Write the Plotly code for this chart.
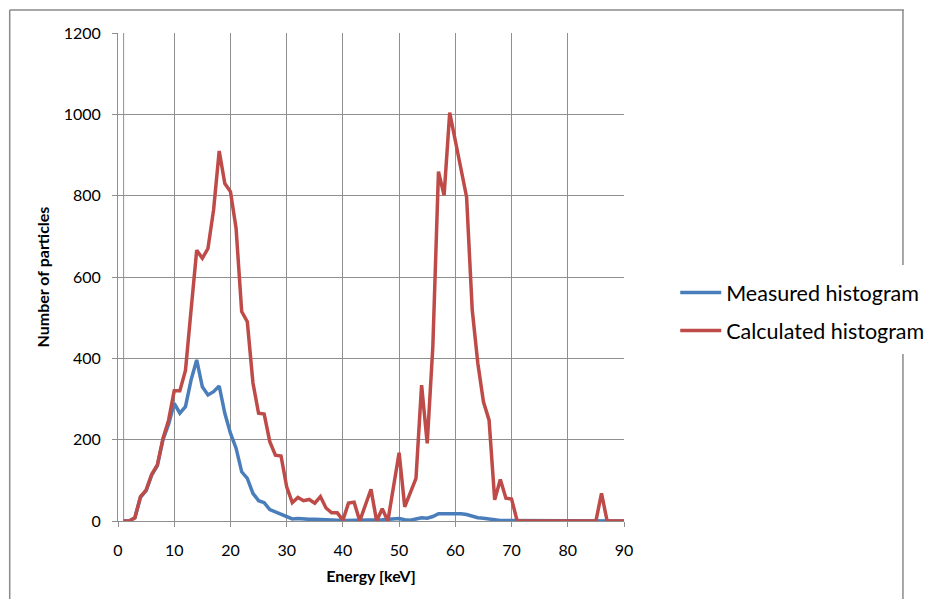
import plotly.graph_objects as go

energy = list(range(1, 91))

measured = [0, 0, 8, 58, 75, 113, 136, 200, 238, 289,
            265, 281, 347, 396, 330, 310, 318, 332, 265, 216,
            179, 121, 105, 68, 50, 45, 28, 22, 17, 10,
            5, 6, 4, 4, 4, 4, 2, 2, 2, 1,
            1, 1, 2, 2, 3, 2, 3, 4, 5, 6,
            3, 2, 5, 8, 7, 11, 18, 18, 20, 19,
            18, 16, 11, 8, 7, 5, 1, 1, 1, 1,
            0, 0, 0, 0, 0, 0, 0, 0, 0, 0,
            0, 0, 0, 0, 0, 0, 0, 0, 0, 0]

calculated = [0, 0, 8, 60, 76, 115, 138, 203, 248, 320,
              320, 370, 519, 666, 646, 670, 765, 910, 830, 810,
              720, 515, 490, 340, 265, 263, 195, 162, 160, 84,
              45, 58, 50, 53, 44, 60, 32, 20, 20, 2,
              44, 46, 0, 40, 78, 0, 30, 0, 85, 168,
              35, 70, 105, 334, 191, 429, 859, 801, 1004, 935,
              865, 797, 520, 388, 293, 248, 52, 102, 56, 54,
              0, 0, 0, 0, 0, 0, 0, 0, 0, 0,
              0, 0, 0, 0, 0, 68, 0, 0, 0, 0]

x_ticks = [0, 10, 20, 30, 40, 50, 60, 70, 80, 90]
y_ticks = [0, 200, 400, 600, 800, 1000, 1200]

FONT = "Lato"
GRID = "#8f8f8f"

fig = go.Figure()
fig.add_trace(go.Scatter(x=energy, y=measured, mode="lines", name="Measured histogram",
                         line=dict(color="#4a7ebb", width=3.5), legendgroup="a"))
fig.add_trace(go.Scatter(x=energy, y=calculated, mode="lines", name="Calculated histogram",
                         line=dict(color="#be4b48", width=3.5), legendgroup="b"))

# page body has an 8px margin; map viewport pixels to paper coords
def px2x(px):
    return (px - 117.5) / 507.0

def py2y(py):
    return (521.0 - py) / 488.0

frame = dict(color="#8a8a8a", width=1.5)
shapes = [
    dict(type="line", xref="paper", yref="paper", x0=px2x(9), x1=px2x(905), y0=py2y(10), y1=py2y(10), line=frame),
    dict(type="line", xref="paper", yref="paper", x0=px2x(9), x1=px2x(9), y0=py2y(10), y1=py2y(640), line=frame),
    dict(type="line", xref="paper", yref="paper", x0=px2x(904), x1=px2x(904), y0=py2y(10), y1=py2y(265), line=frame),
    dict(type="line", xref="paper", yref="paper", x0=px2x(904), x1=px2x(904), y0=py2y(354), y1=py2y(640), line=frame),
    # extra vertical gridline at first data point (as in the original Excel chart)
    dict(type="line", xref="x", yref="paper", x0=energy[0], x1=energy[0], y0=0, y1=1,
         line=dict(color=GRID, width=1), layer="below"),
]

fig.update_layout(
    width=928, height=591,
    margin=dict(l=109.5, r=311.5, t=25, b=78),
    paper_bgcolor="white", plot_bgcolor="white",
    font=dict(family=FONT, color="black", size=16),
    shapes=shapes,
    showlegend=True,
    legend=dict(xref="container", yref="container",
                x=0.719, y=0.4865, xanchor="left", yanchor="middle",
                font=dict(family=FONT, size=21.5, color="black"),
                bgcolor="rgba(0,0,0,0)", tracegroupgap=7, itemwidth=41),
    xaxis=dict(range=[0, 90], tickvals=x_ticks, ticktext=[str(v) for v in x_ticks],
               showgrid=True, gridcolor=GRID, gridwidth=1,
               showline=True, linecolor=GRID, linewidth=1, mirror=False,
               ticks="outside", ticklen=5, tickcolor=GRID,
               ticklabelstandoff=10, zeroline=False,
               tickfont=dict(family=FONT, size=16, color="black"),
               title=dict(text="<b>Energy [keV]</b>", standoff=12,
                          font=dict(family=FONT, size=16, color="black"))),
    yaxis=dict(range=[0, 1200], tickvals=y_ticks, ticktext=[str(v) for v in y_ticks],
               showgrid=True, gridcolor=GRID, gridwidth=1,
               showline=True, linecolor=GRID, linewidth=1,
               ticks="outside", ticklen=5, tickcolor=GRID,
               ticklabelstandoff=8, zeroline=False,
               tickfont=dict(family=FONT, size=16, color="black"),
               title=dict(text="<b>Number of particles</b>", standoff=10,
                          font=dict(family=FONT, size=16, color="black"))),
)

fig.write_html("out.html")
